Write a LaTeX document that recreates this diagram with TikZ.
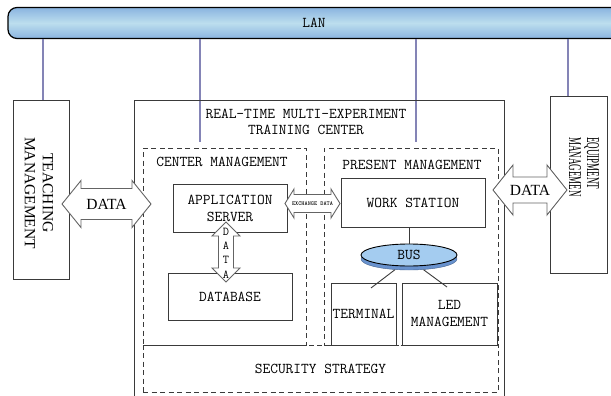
\documentclass[tikz,border=0pt]{standalone}
\usepackage{fontspec}
\usepackage{graphicx}
\usetikzlibrary{shapes.geometric}

\newfontfamily\serifrm{Liberation Serif}

\definecolor{lanblue}{RGB}{138,180,224}
\definecolor{lanlight}{RGB}{188,222,238}
\definecolor{wire}{RGB}{132,132,182}
\definecolor{edge}{RGB}{58,58,58}
\definecolor{arrowedge}{RGB}{100,100,100}
\definecolor{busblue}{RGB}{164,204,240}
\definecolor{busdark}{RGB}{104,146,206}

\tikzset{
  box/.style={draw=edge,line width=0.9pt,inner sep=0pt,align=center,
    font=\fontsize{15}{17}\ttfamily},
  dashbox/.style={box,dash pattern=on 5pt off 3.5pt},
  txt/.style={inner sep=0pt,align=center,font=\fontsize{15}{16}\ttfamily},
  sidetxt/.style={inner sep=0pt,rotate=-90},
  lanwire/.style={draw=wire,line width=1.2pt},
  blockarrow/.style={draw=arrowedge,fill=white,line width=0.9pt},
  datatxt/.style={inner sep=0pt,font=\fontsize{15.5}{16}\serifrm}
}

% horizontal block arrow: x1, x2, y, half shaft, half head, head length
\newcommand{\dataharrow}[6]{%
  \draw[blockarrow] (#1,#3) -- ({#1+#6},{#3-#5}) -- ({#1+#6},{#3-#4})
    -- ({#2-#6},{#3-#4}) -- ({#2-#6},{#3-#5}) -- (#2,#3)
    -- ({#2-#6},{#3+#5}) -- ({#2-#6},{#3+#4}) -- ({#1+#6},{#3+#4})
    -- ({#1+#6},{#3+#5}) -- cycle;}
% vertical block arrow: y1, y2, x, half shaft, half head, head length
\newcommand{\datavarrow}[6]{%
  \draw[blockarrow] (#3,#1) -- ({#3+#5},{#1+#6}) -- ({#3+#4},{#1+#6})
    -- ({#3+#4},{#2-#6}) -- ({#3+#5},{#2-#6}) -- (#3,#2)
    -- ({#3-#5},{#2-#6}) -- ({#3-#4},{#2-#6}) -- ({#3-#4},{#1+#6})
    -- ({#3-#5},{#1+#6}) -- cycle;}
\newcommand{\narrowtxt}[1]{\scalebox{0.5}[1]{#1}}

\begin{document}
\begin{tikzpicture}[x=1pt,y=-1pt]
\useasboundingbox (0,0) rectangle (611,396);

% LAN bar and its wires
\draw (314,23) node[draw=black,line width=1.2pt,rounded corners=9pt,
  minimum width=612,minimum height=31,top color=lanblue,bottom color=lanblue,
  middle color=lanlight,txt](lan) {LAN};
\coordinate (wireA) at (200,142);
\coordinate (wireB) at (416,142);
\draw[lanwire] (43,39) -- (43,100);
\draw[lanwire] (wireA |- lan.south) -- (wireA);
\draw[lanwire] (wireB |- lan.south) -- (wireB);
\draw[lanwire] (568,39) -- (568,96);

% side boxes
\draw (41,189.5) node[box,minimum width=56,minimum height=179](teach) {};
\draw (39,193) node[sidetxt,align=center,font=\fontsize{15.5}{18}\serifrm](teachlabel) {TEACHING\\MANAGEMENT};
\draw (578.5,184.5) node[box,minimum width=57,minimum height=177](equip) {};
\draw (584,167) node[sidetxt,align=left,font=\fontsize{18}{18}\serifrm](equiplabel) {\narrowtxt{EQUIPMENT}\\\narrowtxt{MANAGEMEN}};

% training center
\draw (319,248.5) node[box,minimum width=370,minimum height=297](center) {};
\draw (306,122) node[txt,font=\fontsize{15}{16}\ttfamily](title) {REAL-TIME MULTI-EXPERIMENT\\TRAINING CENTER};
\draw (224.5,246.5) node[dashbox,minimum width=163,minimum height=197](cmgmt) {};
\draw (411,246.5) node[dashbox,minimum width=174,minimum height=197](pmgmt) {};
\draw (320.5,368.5) node[dashbox,minimum width=355,minimum height=47](security) {SECURITY STRATEGY};
\draw (222,162) node[txt](cmgmtlabel) {CENTER MANAGEMENT};
\draw (412,165) node[txt](pmgmtlabel) {PRESENT MANAGEMENT};

% center management
\draw (230,208) node[box,minimum width=114,minimum height=48](appserver) {APPLICATION\\SERVER};
\draw (230,296.5) node[box,minimum width=124,minimum height=47](database) {DATABASE};

% present management
\draw (413,202.5) node[box,minimum width=144,minimum height=49](workst) {WORK STATION};
\draw (409,259) node[ellipse,draw=busdark!70!black,fill=busdark,minimum width=96,minimum height=22,inner sep=0pt](busbase) {};
\draw (363.5,314) node[box,minimum width=65,minimum height=62](terminal) {TERMINAL};
\draw (449.5,314) node[box,minimum width=95,minimum height=62](led) {LED\\MANAGEMENT};
\coordinate (termjoin) at (371,288);
\coordinate (ledjoin) at (447,287);
\draw[edge,line width=0.9pt] (busbase) -- (termjoin);
\draw[edge,line width=0.9pt] (busbase) -- (ledjoin);
\draw (409,255) node[ellipse,draw=black,line width=0.9pt,fill=busblue,minimum width=96,minimum height=22,inner sep=0pt,font=\fontsize{15}{16}\ttfamily](bus) {BUS};
\draw[edge,line width=0.9pt] (bus.north |- workst.south) -- (bus.north);

% data arrows
\dataharrow{62}{151}{204}{15.5}{23.5}{19}
\draw (106.5,204) node[datatxt](dataleft) {DATA};
\dataharrow{493}{567}{190}{13}{25}{20}
\draw (530,190) node[datatxt](dataright) {DATA};
\dataharrow{285}{340}{203.5}{9}{14.5}{9}
\draw (312.5,203.5) node[inner sep=0pt,font=\fontsize{6}{6}\ttfamily\bfseries](exchange) {EXCHANGE DATA};
\datavarrow{222}{282}{226}{7.5}{14}{14}
\draw (226,253) node[inner sep=0pt,align=center,font=\fontsize{12}{14.3}\ttfamily](datavert) {D\\A\\T\\A};
\end{tikzpicture}
\end{document}
